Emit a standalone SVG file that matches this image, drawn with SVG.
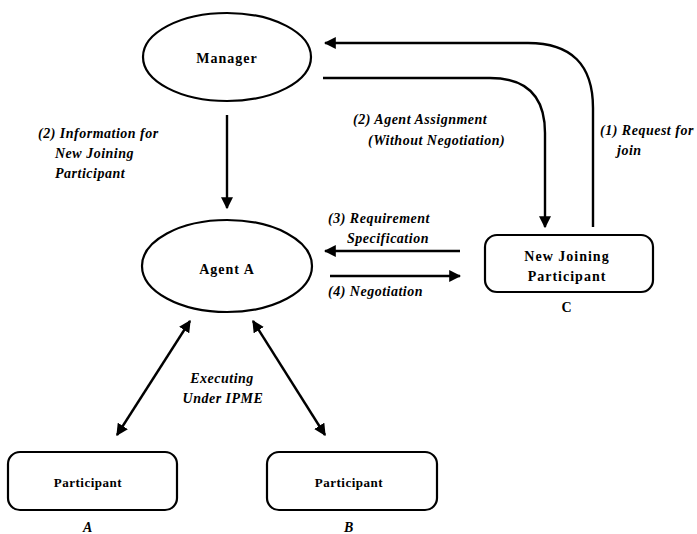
<svg xmlns="http://www.w3.org/2000/svg" width="697" height="534" viewBox="0 0 697 534">
<defs>
<marker id="ah" viewBox="0 0 10 10" refX="9" refY="5" markerWidth="5" markerHeight="5" orient="auto-start-reverse" markerUnits="strokeWidth">
<path d="M0,0 L10,5 L0,10 z" fill="#000"/>
</marker>
<style>
.shape{fill:#fff;stroke:#000;stroke-width:2.2}
.node{font-family:"Liberation Serif",serif;font-weight:bold;font-size:14px;letter-spacing:1px;text-anchor:middle;fill:#000}
.small{font-size:13px;letter-spacing:0.5px}
.lbl{font-family:"Liberation Serif",serif;font-weight:bold;font-style:italic;font-size:14px;letter-spacing:0.5px;fill:#000}
.con{fill:none;stroke:#000;stroke-width:2.4}
</style>
</defs>
<rect width="697" height="534" fill="#fff"/>
<g id="manager">
<ellipse class="shape" cx="227" cy="57" rx="84" ry="44"/>
<text class="node" x="227" y="63">Manager</text>
</g>
<g id="agentA">
<ellipse class="shape" cx="227" cy="266" rx="85" ry="46"/>
<text class="node" x="227" y="274">Agent A</text>
</g>
<g id="newJoining">
<rect class="shape" x="485" y="235" width="168" height="57" rx="12"/>
<text class="node" x="567" y="261">New Joining</text>
<text class="node" x="567" y="281">Participant</text>
<text class="node" x="567" y="312">C</text>
</g>
<g id="participantA">
<rect class="shape" x="8" y="452" width="169" height="58" rx="12"/>
<text class="node small" x="88" y="487">Participant</text>
<text class="lbl" x="88" y="532" text-anchor="middle">A</text>
</g>
<g id="participantB">
<rect class="shape" x="267" y="452" width="170" height="58" rx="12"/>
<text class="node small" x="349" y="487">Participant</text>
<text class="lbl" x="349" y="532" text-anchor="middle">B</text>
</g>
<g id="connectors">
<path class="con" d="M593,227 V108 Q593,43 528,43 H325" marker-end="url(#ah)"/>
<path class="con" d="M323,78 H490 Q545,78 545,133 V227" marker-end="url(#ah)"/>
<path class="con" d="M227,115 V208" marker-end="url(#ah)"/>
<path class="con" d="M460,251 H325" marker-end="url(#ah)"/>
<path class="con" d="M330,276 H460" marker-end="url(#ah)"/>
<path class="con" d="M117,435 L190,321" marker-start="url(#ah)" marker-end="url(#ah)"/>
<path class="con" d="M253,321 L325,435" marker-start="url(#ah)" marker-end="url(#ah)"/>
</g>
<g id="labels">
<text class="lbl" x="38" y="138">(2) Information for</text>
<text class="lbl" x="55" y="158">New Joining</text>
<text class="lbl" x="55" y="178">Participant</text>
<text class="lbl" x="353" y="124">(2) Agent Assignment</text>
<text class="lbl" x="368" y="145">(Without Negotiation)</text>
<text class="lbl" x="600" y="135">(1) Request for</text>
<text class="lbl" x="617" y="155">join</text>
<text class="lbl" x="328" y="223">(3) Requirement</text>
<text class="lbl" x="347" y="243">Specification</text>
<text class="lbl" x="328" y="296">(4) Negotiation</text>
<text class="lbl" x="222" y="383" text-anchor="middle">Executing</text>
<text class="lbl" x="223" y="403" text-anchor="middle">Under IPME</text>
</g>
</svg>
